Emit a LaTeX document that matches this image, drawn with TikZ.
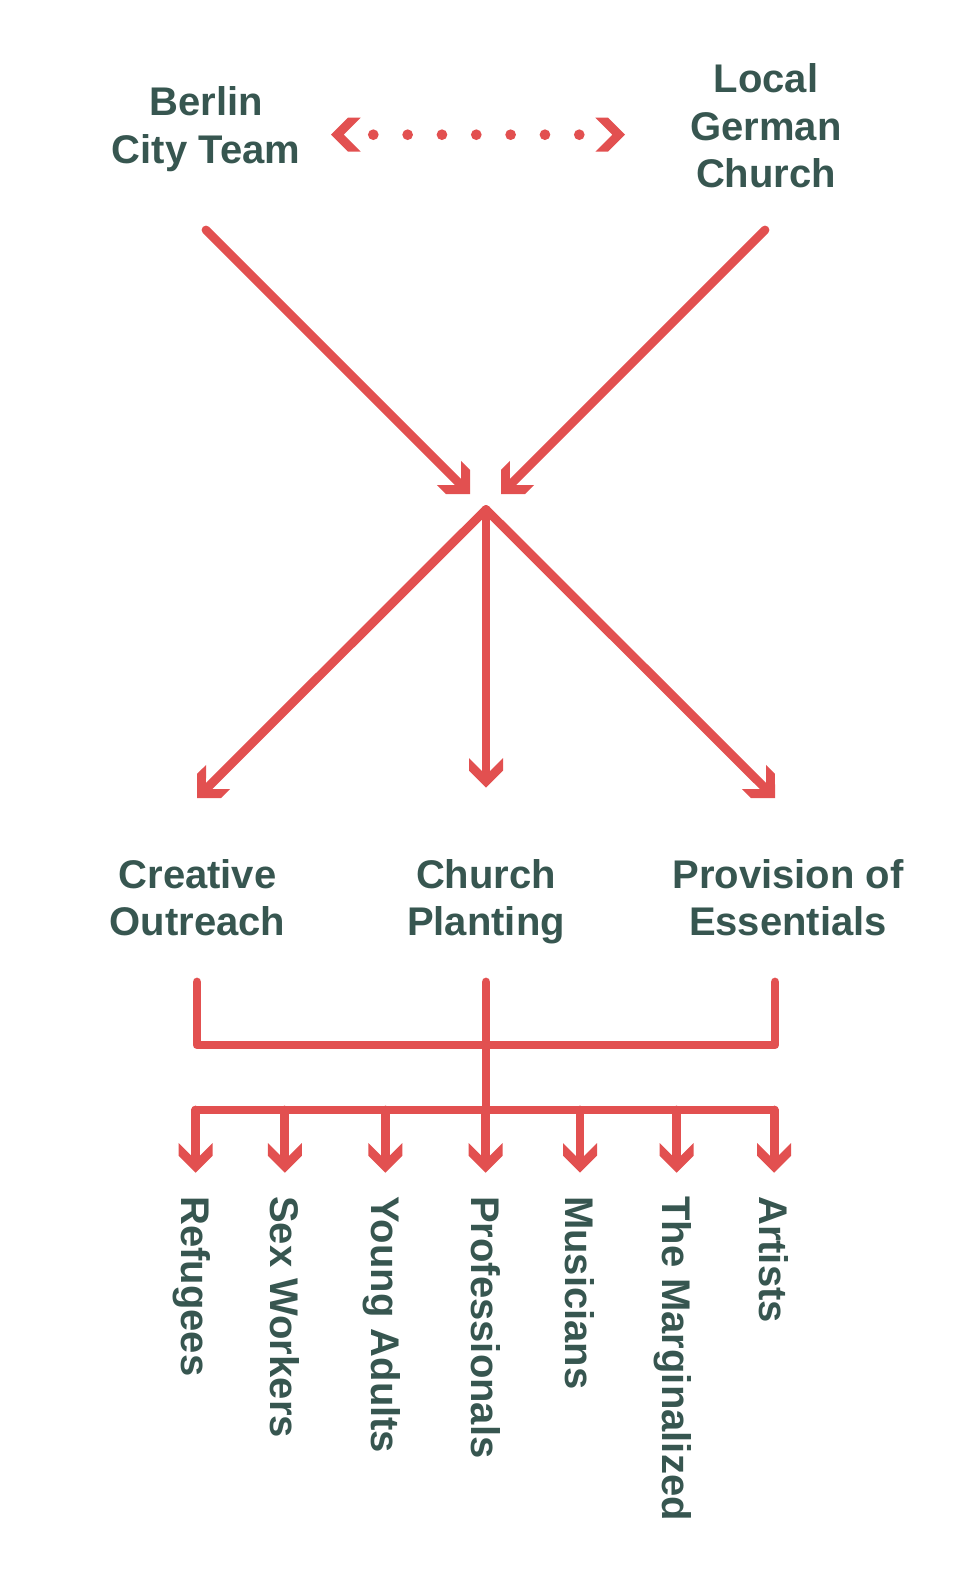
\documentclass[tikz,border=0pt]{standalone}
\usepackage{fontspec}
\setmainfont{Liberation Sans}
\usetikzlibrary{arrows.meta}
\definecolor{mred}{RGB}{226,80,80}
\definecolor{mtxt}{RGB}{55,86,80}
\pgfdeclarearrow{
  name = Chev,
  setup code = {
    \pgfarrowssettipend{0pt}
    \pgfarrowssetlineend{-12pt}
    \pgfarrowssetbackend{-29.7pt}
    \pgfarrowshullpoint{0pt}{0pt}
    \pgfarrowshullpoint{-29.7pt}{17pt}
    \pgfarrowshullpoint{-29.7pt}{-17pt}
  },
  drawing code = {
    \pgfpathmoveto{\pgfqpoint{0pt}{0pt}}
    \pgfpathlineto{\pgfqpoint{-17pt}{17pt}}
    \pgfpathlineto{\pgfqpoint{-29.7pt}{17pt}}
    \pgfpathlineto{\pgfqpoint{-12.7pt}{0pt}}
    \pgfpathlineto{\pgfqpoint{-29.7pt}{-17pt}}
    \pgfpathlineto{\pgfqpoint{-17pt}{-17pt}}
    \pgfpathclose
    \pgfusepathqfill
  },
}
\pgfdeclarearrow{
  name = ChevD,
  setup code = {
    \pgfarrowssettipend{0pt}
    \pgfarrowssetlineend{-22pt}
    \pgfarrowssetbackend{-29.7pt}
    \pgfarrowshullpoint{0pt}{0pt}
    \pgfarrowshullpoint{-29.7pt}{17pt}
    \pgfarrowshullpoint{-29.7pt}{-17pt}
  },
  drawing code = {
    \pgfpathmoveto{\pgfqpoint{0pt}{0pt}}
    \pgfpathlineto{\pgfqpoint{-17pt}{17pt}}
    \pgfpathlineto{\pgfqpoint{-29.7pt}{17pt}}
    \pgfpathlineto{\pgfqpoint{-12.7pt}{0pt}}
    \pgfpathlineto{\pgfqpoint{-29.7pt}{-17pt}}
    \pgfpathlineto{\pgfqpoint{-17pt}{-17pt}}
    \pgfpathclose
    \pgfusepathqfill
  },
}
\tikzset{
  conn/.style={color=mred, line width=8.8pt, line cap=round, line join=round},
  dotconn/.style={color=mred, line width=10.7pt, line cap=round, dash pattern=on 0pt off 34.33pt, dash phase=14.03pt},
  lbl/.style={text=mtxt, font=\fontsize{40}{47.5}\selectfont\bfseries, align=center, inner sep=0pt, anchor=base},
  vlbl/.style={text=mtxt, font=\fontsize{40}{47}\selectfont\bfseries, inner sep=0pt, rotate=-90, anchor=base west},
}
\begin{document}
\begin{tikzpicture}[x=1pt,y=-1pt]
\useasboundingbox (0,0) rectangle (972,1589);
% top labels (base anchor = baseline of last line)
\node[lbl] (berlin) at (206,163.5) {Berlin\\City Team};
\node[lbl] (local) at (766,188) {Local\\German\\Church};
% dotted two-way connector
\coordinate (dl) at (331,134.7);
\coordinate (dr) at (625,134.7);
\draw[dotconn, ChevD-ChevD] (dl) -- (dr);
% converging diagonals
\coordinate (bS) at (206,230);
\coordinate (lS) at (765,230);
\coordinate (tL) at (470,494);
\coordinate (tR) at (501,494);
\draw[conn,-Chev] (bS) -- (tL);
\draw[conn,-Chev] (lS) -- (tR);
% diverging
\coordinate (apex) at (486,509.5);
\coordinate (mL) at (197,798);
\coordinate (mC) at (486,787.7);
\coordinate (mR) at (775,798);
\draw[conn,-Chev] (apex) -- (mL);
\draw[conn,-Chev] (apex) -- (mC);
\draw[conn,-Chev] (apex) -- (mR);
% middle labels
\node[lbl] (creative) at (197.5,935.5) {Creative\\Outreach};
\node[lbl] (planting) at (486,935.5) {Church\\Planting};
\node[lbl] (provision) at (788,935.5) {Provision of\\Essentials};
% joining bracket
\coordinate (c1) at (197,982);
\coordinate (c2) at (486,982);
\coordinate (c3) at (775,982);
\coordinate (b1L) at (197,1045);
\coordinate (b1R) at (775,1045);
\coordinate (j2) at (486,1110);
\coordinate (b2L) at (195.6,1110);
\coordinate (b2R) at (774.2,1110);
\draw[conn] (c1) -- (b1L) -- (b1R) -- (c3);
\draw[conn] (c2) -- (j2);
\draw[conn] (b2L) -- (b2R);
% bottom arrows and labels
\foreach \i/\x/\t in {1/195.6/Refugees, 2/284.8/Sex Workers, 3/385.4/Young Adults, 4/485.6/Professionals, 5/580/Musicians, 6/676.7/The Marginalized, 7/774.2/Artists}{
  \coordinate (a\i) at (\x,1110);
  \coordinate (p\i) at (\x,1172.7);
  \draw[conn,-Chev] (a\i) -- (p\i);
  \node[vlbl] (t\i) at (\x-14.3,1196) {\t};
}
\end{tikzpicture}
\end{document}
